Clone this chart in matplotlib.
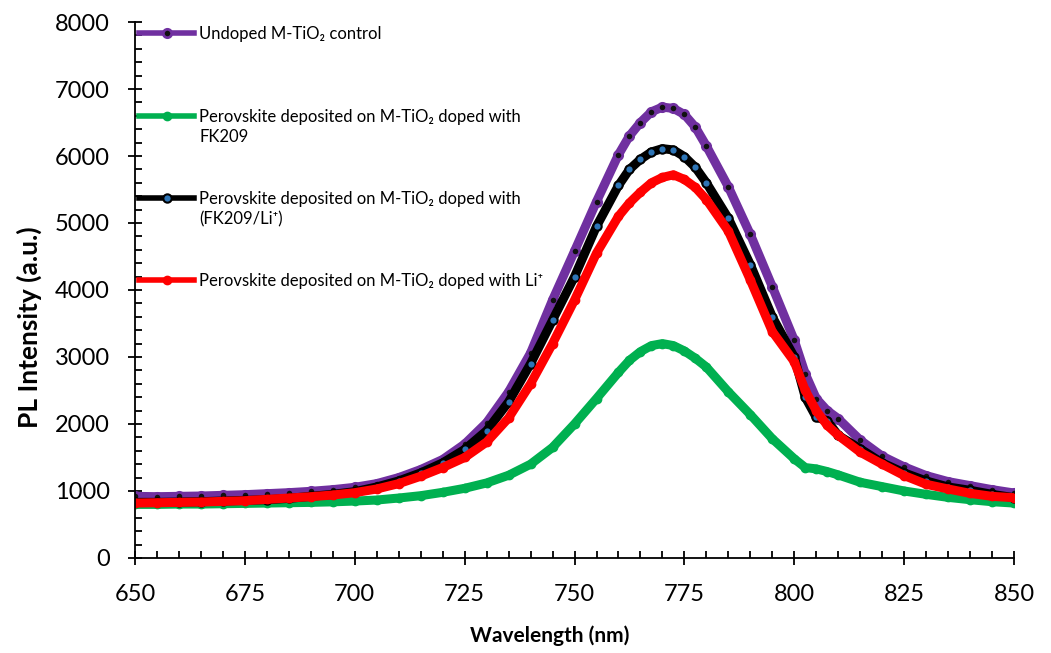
import matplotlib
matplotlib.use("Agg")
import matplotlib.pyplot as plt
from matplotlib.ticker import MultipleLocator

plt.rcParams['font.family'] = ['Lato', 'DejaVu Sans']

wavelength = [650, 655, 660, 665, 670, 675, 680, 685, 690, 695,
              700, 705, 710, 715, 720, 725, 730, 735, 740, 745,
              750, 755, 760, 762.5, 765, 767.5, 770, 772.5, 775, 777.5,
              780, 785, 790, 795,
              800, 802.5, 805, 807.5, 810, 815, 820, 825, 830, 835,
              840, 845, 850]

undoped = [920, 915, 920, 925, 935, 945, 960, 975, 995, 1020,
           1055, 1110, 1200, 1320, 1470, 1700, 2020, 2480, 3060, 3850,
           4580, 5320, 6020, 6300, 6500, 6660, 6730, 6710, 6620, 6430,
           6150, 5540, 4830, 4050,
           3250, 2750, 2380, 2200, 2080, 1760, 1520, 1360, 1230, 1140,
           1080, 1020, 970]

fk209 = [800, 800, 805, 805, 810, 815, 820, 825, 830, 838,
         850, 865, 895, 930, 980, 1040, 1120, 1235, 1400, 1650,
         2000, 2380, 2770, 2950, 3080, 3170, 3200, 3170, 3090, 2980,
         2850, 2480, 2140, 1780,
         1480, 1350, 1330, 1290, 1240, 1130, 1065, 1000, 950, 905,
         870, 840, 820]

fk209_li = [830, 830, 835, 840, 850, 860, 870, 890, 920, 950,
            990, 1060, 1150, 1270, 1420, 1620, 1900, 2330, 2900, 3550,
            4200, 4950, 5560, 5800, 5950, 6060, 6110, 6090, 5990, 5830,
            5600, 5070, 4380, 3600,
            3000, 2400, 2100, 2050, 1830, 1630, 1420, 1270, 1150, 1060,
            1010, 950, 900]

li = [820, 825, 830, 835, 845, 855, 875, 895, 915, 940,
      975, 1030, 1110, 1220, 1350, 1500, 1730, 2090, 2600, 3200,
      3850, 4550, 5100, 5300, 5460, 5600, 5680, 5720, 5650, 5530,
      5350, 4880, 4150, 3380,
      2930, 2500, 2200, 1980, 1830, 1580, 1400, 1230, 1100, 1030,
      965, 920, 900]

labels = ["Undoped M-TiO\u2082 control",
          "Perovskite deposited on M-TiO\u2082 doped with",
          "Perovskite deposited on M-TiO\u2082 doped with",
          "Perovskite deposited on M-TiO\u2082 doped with Li\u207a"]
second_lines = ["", "FK209", "(FK209/Li\u207a)", ""]

fig = plt.figure(figsize=(10.51, 6.53), dpi=100)
ax = fig.add_axes([0.1285, 0.1455, 0.8363, 0.8208])

ax.plot(wavelength, undoped, color='#7030A0', lw=6.5, marker='o', ms=6,
        mfc='#111111', mec='#7030A0', mew=2, label=labels[0])
ax.plot(wavelength, fk209, color='#00B050', lw=6.5, marker='o', ms=6,
        mfc='#00B050', mec='#00B050', label=labels[1])
ax.plot(wavelength, fk209_li, color='black', lw=6.5, marker='o', ms=6,
        mfc='#2E75B6', mec='black', mew=1.5, label=labels[2])
ax.plot(wavelength, li, color='#FF0000', lw=6.5, marker='o', ms=6,
        mfc='#FF0000', mec='#FF0000', label=labels[3])

ax.set_xlim(650, 850)
ax.set_ylim(0, 8000)
ax.xaxis.set_major_locator(MultipleLocator(25))
ax.xaxis.set_minor_locator(MultipleLocator(5))
ax.yaxis.set_major_locator(MultipleLocator(1000))
ax.yaxis.set_minor_locator(MultipleLocator(200))
ax.tick_params(which='major', direction='inout', length=10, width=1.3,
               labelsize=17)
ax.tick_params(axis='x', which='major', pad=13.5)
ax.tick_params(axis='y', which='major', pad=13)
ax.tick_params(which='minor', direction='in', length=5, width=1.3)
for side in ['top', 'right']:
    ax.spines[side].set_visible(False)
for side in ['left', 'bottom']:
    ax.spines[side].set_linewidth(1.3)

ax.set_xlabel("Wavelength (nm)", fontsize=15, fontweight='bold')
ax.set_ylabel("PL Intensity (a.u.)", fontsize=19, fontweight='bold')
ax.xaxis.set_label_coords(0.472, -0.126)
ax.yaxis.set_label_coords(-0.106, 0.43)

leg = ax.legend(loc='upper left', bbox_to_anchor=(0.0, 1.0), frameon=False,
                fontsize=12, handlelength=3.3, handletextpad=0.3,
                labelspacing=3.98, borderaxespad=0.0, borderpad=0.25)
for line in leg.get_lines():
    line.set_linewidth(4)

# second lines of the wrapped legend labels
fig.canvas.draw()
texts = leg.get_texts()
inv = ax.transAxes.inverted()
for t, extra in zip(texts, second_lines):
    if extra:
        bb = t.get_window_extent()
        x0, y0 = inv.transform((bb.x0, bb.y0))
        ax.text(x0, y0 - 0.008, extra, transform=ax.transAxes, fontsize=12,
                va='top', ha='left')

fig.savefig("out.png", dpi=100)
